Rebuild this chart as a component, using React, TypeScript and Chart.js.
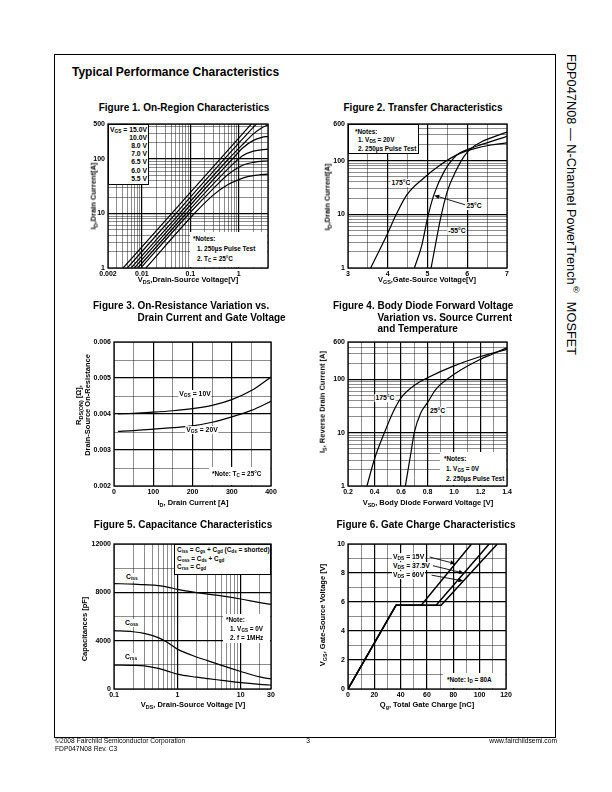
import React, { useEffect, useRef } from 'react';
import { Chart, registerables } from 'chart.js';

Chart.register(...registerables);

const FONT = "'Liberation Sans', Arial, Helvetica, sans-serif";

/* ---------- Figure 1: On-Region Characteristics (VDS [V] -> ID [A]) ---------- */
const F1_VDS_15V = [0.0041, 0.041, 0.41, 1.85];
const F1_ID_15V = [1, 10, 100, 450];
const F1_VDS_10V = [0.005, 0.05, 0.5, 1.2, 2.3];
const F1_ID_10V = [1, 10, 100, 235, 440];
const F1_VDS_8V = [0.006, 0.06, 0.6, 1.2, 2, 3, 4];
const F1_ID_8V = [1, 10, 98, 185, 290, 375, 425];
const F1_VDS_7V = [0.007, 0.07, 0.4, 0.7, 1.2, 2, 3, 4];
const F1_ID_7V = [1, 10, 56, 95, 160, 220, 250, 261];
const F1_VDS_65V = [0.0082, 0.082, 0.4, 0.8, 1.2, 2, 4];
const F1_ID_65V = [1, 10, 46, 85, 115, 140, 152];
const F1_VDS_6V = [0.0095, 0.095, 0.3, 0.6, 1.2, 2, 4];
const F1_ID_6V = [1, 10, 29, 52, 77, 87, 93];
const F1_VDS_55V = [0.0121, 0.121, 0.3, 0.6, 1, 1.6, 2.5, 4];
const F1_ID_55V = [1, 10, 22, 34, 42, 48, 51, 53];
const F1_VGS_LABELS = ['15.0V', '10.0V', '8.0 V', '7.0 V', '6.5 V', '6.0 V', '5.5 V'];
const F1_X_TICK_VALUES = [0.002, 0.01, 0.1, 1];
const F1_X_TICK_LABELS = ['0.002', '0.01', '0.1', '1'];
const F1_Y_TICK_VALUES = [1, 10, 100, 440];
const F1_Y_TICK_LABELS = ['1', '10', '100', '500'];

/* ---------- Figure 2: Transfer Characteristics (VGS [V] -> ID [A]) ---------- */
const F2_VGS_175C = [3.57, 3.99, 4.2, 4.48, 4.9, 5.33, 5.75, 6.18, 6.6, 7.0];
const F2_ID_175C = [1, 4.3, 9.5, 23, 47, 84, 129, 167, 195, 213];
const F2_VGS_25C = [4.67, 4.86, 5.0, 5.16, 5.42, 5.75, 6.0, 6.35, 7.0];
const F2_ID_25C = [1, 2.7, 8.5, 23, 63, 129, 160, 198, 283];
const F2_VGS_M55C = [5.09, 5.2, 5.33, 5.5, 5.71, 5.92, 6.09, 6.35, 7.0];
const F2_ID_M55C = [1, 2.7, 8.5, 27, 63, 120, 167, 222, 340];
const F2_X_TICK_VALUES = [3, 4, 5, 6, 7];
const F2_X_TICK_LABELS = ['3', '4', '5', '6', '7'];
const F2_Y_TICK_VALUES = [1, 10, 100, 480];
const F2_Y_TICK_LABELS = ['1', '10', '100', '600'];

/* ---------- Figure 3: On-Resistance vs Drain Current (ID [A] -> RDS(on) [ohm]) ---------- */
const F3_ID = [10, 50, 100, 150, 200, 250, 300, 350, 400];
const F3_RDS_VGS10 = [0.004, 0.00402, 0.00405, 0.00409, 0.00415, 0.00424, 0.0044, 0.00465, 0.00503];
const F3_RDS_VGS20 = [0.00352, 0.00354, 0.00358, 0.00362, 0.00367, 0.00377, 0.00392, 0.0041, 0.00435];
const F3_X_TICK_VALUES = [0, 100, 200, 300, 400];
const F3_X_TICK_LABELS = ['0', '100', '200', '300', '400'];
const F3_Y_TICK_VALUES = [0.002, 0.003, 0.004, 0.005, 0.006];
const F3_Y_TICK_LABELS = ['0.002', '0.003', '0.004', '0.005', '0.006'];

/* ---------- Figure 4: Body Diode Forward Voltage (VSD [V] -> IS [A]) ---------- */
const F4_VSD_175C = [0.343, 0.4, 0.475, 0.538, 0.6, 0.713, 0.8, 1.0, 1.2, 1.4];
const F4_IS_175C = [1, 3.2, 10, 23.7, 45, 81, 107, 178, 267, 365];
const F4_VSD_25C = [0.633, 0.675, 0.7, 0.75, 0.8, 0.863, 1.0, 1.2, 1.288, 1.4];
const F4_IS_25C = [1, 4.2, 10, 23.7, 36.5, 65, 124, 238, 295, 390];
const F4_X_TICK_VALUES = [0.2, 0.4, 0.6, 0.8, 1.0, 1.2, 1.4];
const F4_X_TICK_LABELS = ['0.2', '0.4', '0.6', '0.8', '1.0', '1.2', '1.4'];
const F4_Y_TICK_VALUES = [1, 10, 100, 500];
const F4_Y_TICK_LABELS = ['1', '10', '100', '600'];

/* ---------- Figure 5: Capacitance (VDS [V] -> C [pF]) ---------- */
const F5_VDS = [0.1, 0.2, 0.3, 0.5, 0.7, 1, 2, 3, 5, 10, 20, 30];
const F5_CISS = [8720, 8680, 8630, 8550, 8430, 8250, 7980, 7850, 7700, 7450, 7150, 7000];
const F5_COSS = [4830, 4740, 4600, 4250, 3850, 3300, 2650, 2350, 1950, 1450, 1000, 830];
const F5_CRSS = [1980, 1960, 1920, 1700, 1480, 1230, 980, 860, 720, 530, 390, 330];
const F5_X_TICK_VALUES = [0.1, 1, 10, 30];
const F5_X_TICK_LABELS = ['0.1', '1', '10', '30'];
const F5_Y_TICK_VALUES = [0, 4000, 8000, 12000];
const F5_Y_TICK_LABELS = ['0', '4000', '8000', '12000'];

/* ---------- Figure 6: Gate Charge (Qg [nC] -> VGS [V]) ---------- */
const F6_QG_15V = [0, 36.5, 55.6, 93.8];
const F6_VGS_15V = [0, 5.78, 5.78, 10];
const F6_QG_375V = [0, 36.5, 66.9, 107.2];
const F6_VGS_375V = [0, 5.78, 5.78, 10];
const F6_QG_60V = [0, 36.5, 70.7, 113.4];
const F6_VGS_60V = [0, 5.78, 5.78, 10];
const F6_X_TICK_VALUES = [0, 20, 40, 60, 80, 100, 120];
const F6_X_TICK_LABELS = ['0', '20', '40', '60', '80', '100', '120'];
const F6_Y_TICK_VALUES = [0, 2, 4, 6, 8, 10];
const F6_Y_TICK_LABELS = ['0', '2', '4', '6', '8', '10'];

/* ---------- helpers ---------- */
type Axis = {
  type: 'linear' | 'logarithmic';
  min: number;
  max: number;
  grid: number[];
  major: number[];
  tickValues: number[];
  tickLabels: string[];
};
type Series = { x: number[]; y: number[]; width?: number; straight?: boolean };
type Arrow = { from: [number, number]; to: [number, number] };
type Area = { l: number; t: number; r: number; b: number };

const PAD_L = 44;
const PAD_T = 8;
const PAD_R = 14;
const PAD_B = 16;

function logGrid(min: number, max: number): number[] {
  const out = [min];
  for (let e = Math.floor(Math.log10(min)); e <= Math.ceil(Math.log10(max)); e++) {
    for (let k = 1; k <= 9; k++) {
      const v = Number((k * Math.pow(10, e)).toPrecision(6));
      if (v > min * 1.0001 && v < max * 0.9999) out.push(v);
    }
  }
  out.push(max);
  return out;
}
function linGrid(min: number, max: number, step: number): number[] {
  const out: number[] = [];
  const n = Math.round((max - min) / step);
  for (let i = 0; i <= n; i++) out.push(Number((min + i * step).toPrecision(8)));
  return out;
}

function matchIndex(a: Axis, v: number, list: number[]) {
  const range = Math.abs(a.max - a.min);
  return list.findIndex(
    (w) => Math.abs(w - v) <= (a.type === 'logarithmic' ? 1e-6 * Math.abs(w) : 1e-6 * range)
  );
}

function axisOptions(a: Axis, which: 'x' | 'y') {
  return {
    type: a.type,
    position: which === 'x' ? 'bottom' : 'left',
    min: a.min,
    max: a.max,
    bounds: 'data',
    afterBuildTicks: (s: any) => {
      s.ticks = a.grid.map((value) => ({ value }));
    },
    afterFit: (s: any) => {
      if (which === 'x') s.height = PAD_B;
      else s.width = PAD_L;
    },
    border: { display: false },
    grid: {
      drawTicks: false,
      color: '#000',
      lineWidth: (ctx: any) =>
        ctx.tick && matchIndex(a, ctx.tick.value, a.major) >= 0 ? 1.2 : 0.45,
    },
    ticks: {
      autoSkip: false,
      maxRotation: 0,
      minRotation: 0,
      color: '#000',
      padding: which === 'x' ? 2 : 3,
      font: { family: FONT, size: 7, weight: 'bold' },
      callback: (v: any) => {
        const i = matchIndex(a, Number(v), a.tickValues);
        return i >= 0 ? a.tickLabels[i] : '';
      },
    },
  };
}

function Plot({ area, x, y, series, arrows = [] }: { area: Area; x: Axis; y: Axis; series: Series[]; arrows?: Arrow[] }) {
  const ref = useRef<HTMLCanvasElement>(null);
  const W = area.r - area.l + PAD_L + PAD_R;
  const H = area.b - area.t + PAD_T + PAD_B;
  useEffect(() => {
    if (!ref.current) return;
    const overlay = {
      id: 'frameAndArrows',
      afterDatasetsDraw(chart: any) {
        const { ctx, chartArea: ca, scales } = chart;
        ctx.save();
        ctx.strokeStyle = '#000';
        ctx.fillStyle = '#000';
        ctx.lineWidth = 1.3;
        ctx.strokeRect(ca.left, ca.top, ca.right - ca.left, ca.bottom - ca.top);
        ctx.lineWidth = 0.9;
        for (const ar of arrows) {
          const x0 = scales.x.getPixelForValue(ar.from[0]);
          const y0 = scales.y.getPixelForValue(ar.from[1]);
          const x1 = scales.x.getPixelForValue(ar.to[0]);
          const y1 = scales.y.getPixelForValue(ar.to[1]);
          const ang = Math.atan2(y1 - y0, x1 - x0);
          const hl = 5;
          const hw = 2.2;
          const bx = x1 - hl * Math.cos(ang);
          const by = y1 - hl * Math.sin(ang);
          ctx.beginPath();
          ctx.moveTo(x0, y0);
          ctx.lineTo(bx, by);
          ctx.stroke();
          ctx.beginPath();
          ctx.moveTo(x1, y1);
          ctx.lineTo(bx + hw * Math.sin(ang), by - hw * Math.cos(ang));
          ctx.lineTo(bx - hw * Math.sin(ang), by + hw * Math.cos(ang));
          ctx.closePath();
          ctx.fill();
        }
        ctx.restore();
      },
    };
    const chart = new Chart(ref.current, {
      type: 'scatter',
      data: {
        datasets: series.map((s) => ({
          data: s.x.map((xv, i) => ({ x: xv, y: s.y[i] })),
          showLine: true,
          borderColor: '#000',
          backgroundColor: '#000',
          borderWidth: s.width ?? 1.2,
          pointRadius: 0,
          pointHoverRadius: 0,
          fill: false,
          tension: 0,
          cubicInterpolationMode: s.straight ? 'default' : 'monotone',
        })),
      },
      options: {
        animation: false,
        responsive: false,
        devicePixelRatio: 1,
        events: [],
        layout: { padding: { left: 0, top: PAD_T, right: PAD_R, bottom: 0 } },
        plugins: { legend: { display: false }, tooltip: { enabled: false } },
        scales: { x: axisOptions(x, 'x'), y: axisOptions(y, 'y') },
      } as any,
      plugins: [overlay as any],
    });
    return () => chart.destroy();
  }, []);
  return (
    <canvas
      ref={ref}
      width={W}
      height={H}
      style={{ position: 'absolute', left: area.l - PAD_L, top: area.t - PAD_T, width: W, height: H }}
    />
  );
}

const Sb = ({ c }: { c: string }) => (
  <sub style={{ fontSize: '0.72em', verticalAlign: 'baseline', position: 'relative', top: '0.3em', lineHeight: 0 }}>{c}</sub>
);

function T({ x, y, s = 7, a = 'l', bg = false, w = 700, children }: { x: number; y: number; s?: number; a?: 'l' | 'c' | 'r'; bg?: boolean; w?: number; children: any }) {
  const tx = a === 'c' ? '-50%' : a === 'r' ? '-100%' : '0';
  return (
    <div
      style={{
        position: 'absolute',
        left: x,
        top: y,
        transform: `translate(${tx},-50%)`,
        fontFamily: FONT,
        fontSize: s,
        fontWeight: w,
        whiteSpace: 'nowrap',
        lineHeight: 1.15,
        background: bg ? '#fff' : 'transparent',
        padding: bg ? '0 1px' : 0,
        color: '#000',
      }}
    >
      {children}
    </div>
  );
}

function VT({ x, y, s = 7.5, children }: { x: number; y: number; s?: number; children: any }) {
  return (
    <div
      style={{
        position: 'absolute',
        left: x,
        top: y,
        transform: 'translate(-50%,-50%) rotate(-90deg)',
        fontFamily: FONT,
        fontSize: s,
        fontWeight: 700,
        whiteSpace: 'nowrap',
        lineHeight: 1.15,
        color: '#000',
      }}
    >
      {children}
    </div>
  );
}

function Box({ l, t, r, b, border = false }: { l: number; t: number; r: number; b: number; border?: boolean }) {
  return (
    <div
      style={{
        position: 'absolute',
        left: l,
        top: t,
        width: r - l,
        height: b - t,
        background: '#fff',
        border: border ? '1px solid #000' : 'none',
        boxSizing: 'border-box',
      }}
    />
  );
}

/* ---------- axis configurations ---------- */
const F1X: Axis = { type: 'logarithmic', min: 0.002, max: 4, grid: logGrid(0.002, 4), major: [0.01, 0.1, 1], tickValues: F1_X_TICK_VALUES, tickLabels: F1_X_TICK_LABELS };
const F1Y: Axis = { type: 'logarithmic', min: 1, max: 440, grid: logGrid(1, 440), major: [10, 100], tickValues: F1_Y_TICK_VALUES, tickLabels: F1_Y_TICK_LABELS };
const F2X: Axis = { type: 'linear', min: 3, max: 7, grid: linGrid(3, 7, 0.5), major: [4, 5, 6], tickValues: F2_X_TICK_VALUES, tickLabels: F2_X_TICK_LABELS };
const F2Y: Axis = { type: 'logarithmic', min: 1, max: 480, grid: logGrid(1, 480), major: [10, 100], tickValues: F2_Y_TICK_VALUES, tickLabels: F2_Y_TICK_LABELS };
const F3X: Axis = { type: 'linear', min: 0, max: 400, grid: linGrid(0, 400, 50), major: [100, 200, 300], tickValues: F3_X_TICK_VALUES, tickLabels: F3_X_TICK_LABELS };
const F3Y: Axis = { type: 'linear', min: 0.002, max: 0.006, grid: linGrid(0.002, 0.006, 0.0005), major: [0.003, 0.004, 0.005], tickValues: F3_Y_TICK_VALUES, tickLabels: F3_Y_TICK_LABELS };
const F4X: Axis = { type: 'linear', min: 0.2, max: 1.4, grid: linGrid(0.2, 1.4, 0.1), major: [0.4, 0.6, 0.8, 1.0, 1.2], tickValues: F4_X_TICK_VALUES, tickLabels: F4_X_TICK_LABELS };
const F4Y: Axis = { type: 'logarithmic', min: 1, max: 500, grid: logGrid(1, 500), major: [10, 100], tickValues: F4_Y_TICK_VALUES, tickLabels: F4_Y_TICK_LABELS };
const F5X: Axis = { type: 'logarithmic', min: 0.1, max: 30, grid: logGrid(0.1, 30), major: [1, 10], tickValues: F5_X_TICK_VALUES, tickLabels: F5_X_TICK_LABELS };
const F5Y: Axis = { type: 'linear', min: 0, max: 12000, grid: linGrid(0, 12000, 2000), major: [4000, 8000], tickValues: F5_Y_TICK_VALUES, tickLabels: F5_Y_TICK_LABELS };
const F6X: Axis = { type: 'linear', min: 0, max: 120, grid: linGrid(0, 120, 10), major: [20, 40, 60, 80, 100], tickValues: F6_X_TICK_VALUES, tickLabels: F6_X_TICK_LABELS };
const F6Y: Axis = { type: 'linear', min: 0, max: 10, grid: linGrid(0, 10, 1), major: [2, 4, 6, 8], tickValues: F6_Y_TICK_VALUES, tickLabels: F6_Y_TICK_LABELS };

export default function App() {
  return (
    <div style={{ position: 'absolute', left: 0, top: 0, width: 612, height: 792, background: '#fff', overflow: 'hidden', fontFamily: FONT }}>
      {/* page frame */}
      <div style={{ position: 'absolute', left: 54, top: 54, width: 502, height: 684, border: '1px solid #000', boxSizing: 'border-box' }} />
      <div
        style={{
          position: 'absolute',
          left: 564,
          top: 54,
          writingMode: 'vertical-rl',
          fontFamily: FONT,
          fontSize: 12.8,
          lineHeight: '14px',
          whiteSpace: 'nowrap',
          color: '#000',
        }}
      >
        FDP047N08 — N-Channel PowerTrench<sup style={{ fontSize: '0.7em' }}>®</sup>&nbsp; MOSFET
      </div>
      <T x={72} y={73} s={12}>Typical Performance Characteristics</T>

      {/* ---------- Figure 1 ---------- */}
      <T x={184} y={108} s={10} a="c">Figure 1. On-Region Characteristics</T>
      <Plot
        area={{ l: 108, t: 124, r: 268, b: 268 }}
        x={F1X}
        y={F1Y}
        series={[
          { x: F1_VDS_15V, y: F1_ID_15V },
          { x: F1_VDS_10V, y: F1_ID_10V },
          { x: F1_VDS_8V, y: F1_ID_8V },
          { x: F1_VDS_7V, y: F1_ID_7V },
          { x: F1_VDS_65V, y: F1_ID_65V },
          { x: F1_VDS_6V, y: F1_ID_6V },
          { x: F1_VDS_55V, y: F1_ID_55V },
        ]}
      />
      <Box l={108} t={124} r={149} b={185} border />
      {F1_VGS_LABELS.map((lb, i) => (
        <T key={lb} x={147} y={129.5 + i * 8.2} s={6.8} a="r">
          {i === 0 ? (
            <>
              V<Sb c="GS" /> = {lb}
            </>
          ) : (
            lb
          )}
        </T>
      ))}
      <Box l={190} t={232} r={267} b={267} />
      <T x={193} y={238.5} s={6.4}>*Notes:</T>
      <T x={197} y={248.5} s={6.4}>1. 250µs Pulse Test</T>
      <T x={197} y={258.5} s={6.4}>
        2. T<Sb c="C" /> = 25°C
      </T>
      <T x={188} y={280} s={7.5} a="c">
        V<Sb c="DS" />,Drain-Source Voltage[V]
      </T>
      <VT x={94} y={196}>
        I<Sb c="D" />,Drain Current[A]
      </VT>

      {/* ---------- Figure 2 ---------- */}
      <T x={423} y={108} s={10} a="c">Figure 2. Transfer Characteristics</T>
      <Plot
        area={{ l: 348, t: 124, r: 507, b: 268 }}
        x={F2X}
        y={F2Y}
        series={[
          { x: F2_VGS_175C, y: F2_ID_175C },
          { x: F2_VGS_25C, y: F2_ID_25C },
          { x: F2_VGS_M55C, y: F2_ID_M55C },
        ]}
        arrows={[{ from: [5.95, 15], to: [5.17, 22.5] }]}
      />
      <Box l={348} t={124} r={419} b={154} border />
      <T x={355} y={131.5} s={6.4}>*Notes:</T>
      <T x={358} y={140} s={6.4}>
        1. V<Sb c="DS" /> = 20V
      </T>
      <T x={358} y={148.5} s={6.4}>2. 250µs Pulse Test</T>
      <T x={401} y={183} s={6.8} a="c" bg>175°C</T>
      <T x={474} y={206} s={6.8} a="c" bg>25°C</T>
      <T x={457} y={231} s={6.8} a="c" bg>-55°C</T>
      <T x={427} y={280} s={7.5} a="c">
        V<Sb c="GS" />,Gate-Source Voltage[V]
      </T>
      <VT x={328} y={197}>
        I<Sb c="D" />,Drain Current[A]
      </VT>

      {/* ---------- Figure 3 ---------- */}
      <T x={93} y={306} s={10}>Figure 3. On-Resistance Variation vs.</T>
      <T x={137.5} y={317.5} s={10}>Drain Current and Gate Voltage</T>
      <Plot
        area={{ l: 114, t: 342, r: 271, b: 486 }}
        x={F3X}
        y={F3Y}
        series={[
          { x: F3_ID, y: F3_RDS_VGS10 },
          { x: F3_ID, y: F3_RDS_VGS20 },
        ]}
      />
      <T x={195} y={394} s={6.8} a="c" bg>
        V<Sb c="GS" /> = 10V
      </T>
      <T x={202} y={430} s={6.8} a="c" bg>
        V<Sb c="GS" /> = 20V
      </T>
      <Box l={209} t={467} r={270} b={485} />
      <T x={212} y={474} s={6.4}>
        *Note: T<Sb c="C" /> = 25°C
      </T>
      <T x={193} y={503} s={7.5} a="c">
        I<Sb c="D" />, Drain Current [A]
      </T>
      <VT x={79} y={405}>
        R<Sb c="DS(ON)" /> [Ω],
      </VT>
      <VT x={88} y={405}>Drain-Source On-Resistance</VT>

      {/* ---------- Figure 4 ---------- */}
      <T x={333} y={306} s={10}>Figure 4. Body Diode Forward Voltage</T>
      <T x={377.5} y={317.5} s={10}>Variation vs. Source Current</T>
      <T x={377.5} y={329} s={10}>and Temperature</T>
      <Plot
        area={{ l: 348, t: 342, r: 507, b: 486 }}
        x={F4X}
        y={F4Y}
        series={[
          { x: F4_VSD_175C, y: F4_IS_175C },
          { x: F4_VSD_25C, y: F4_IS_25C },
        ]}
      />
      <T x={385} y={398} s={6.8} a="c" bg>175°C</T>
      <T x={437.5} y={411} s={6.8} a="c" bg>25°C</T>
      <Box l={440} t={452} r={506} b={485} />
      <T x={444} y={459} s={6.4}>*Notes:</T>
      <T x={446} y={469} s={6.4}>
        1. V<Sb c="GS" /> = 0V
      </T>
      <T x={446} y={479} s={6.4}>2. 250µs Pulse Test</T>
      <T x={428} y={503} s={7.5} a="c">
        V<Sb c="SD" />, Body Diode Forward Voltage [V]
      </T>
      <VT x={323} y={402}>
        I<Sb c="S" />, Reverse Drain Current [A]
      </VT>

      {/* ---------- Figure 5 ---------- */}
      <T x={183} y={525} s={10} a="c">Figure 5. Capacitance Characteristics</T>
      <Plot
        area={{ l: 114, t: 544, r: 271, b: 689 }}
        x={F5X}
        y={F5Y}
        series={[
          { x: F5_VDS, y: F5_CISS },
          { x: F5_VDS, y: F5_COSS },
          { x: F5_VDS, y: F5_CRSS },
        ]}
      />
      <Box l={174} t={544} r={271} b={575} border />
      <T x={177} y={550} s={6.4}>
        C<Sb c="iss" /> = C<Sb c="gs" /> + C<Sb c="gd" /> (C<Sb c="ds" /> = shorted)
      </T>
      <T x={177} y={558.5} s={6.4}>
        C<Sb c="oss" /> = C<Sb c="ds" /> + C<Sb c="gd" />
      </T>
      <T x={177} y={567} s={6.4}>
        C<Sb c="rss" /> = C<Sb c="gd" />
      </T>
      <Box l={223} t={614} r={270} b={643} />
      <T x={226} y={620} s={6.4}>*Note:</T>
      <T x={230} y={628.5} s={6.4}>
        1. V<Sb c="GS" /> = 0V
      </T>
      <T x={230} y={637.5} s={6.4}>2. f = 1MHz</T>
      <T x={125} y={577} s={6.8} bg>
        C<Sb c="iss" />
      </T>
      <T x={124} y={623} s={6.8} bg>
        C<Sb c="oss" />
      </T>
      <T x={124} y={656.5} s={6.8} bg>
        C<Sb c="rss" />
      </T>
      <T x={193} y={705} s={7.5} a="c">
        V<Sb c="DS" />, Drain-Source Voltage [V]
      </T>
      <VT x={85} y={629}>Capacitances [pF]</VT>

      {/* ---------- Figure 6 ---------- */}
      <T x={426} y={525} s={10} a="c">Figure 6. Gate Charge Characteristics</T>
      <Plot
        area={{ l: 348, t: 544, r: 506, b: 689 }}
        x={F6X}
        y={F6Y}
        series={[
          { x: F6_QG_15V, y: F6_VGS_15V, width: 1.5, straight: true },
          { x: F6_QG_375V, y: F6_VGS_375V, width: 1.5, straight: true },
          { x: F6_QG_60V, y: F6_VGS_60V, width: 1.5, straight: true },
        ]}
        arrows={[
          { from: [62, 9.1], to: [81.5, 8.64] },
          { from: [64.5, 8.5], to: [88, 7.99] },
          { from: [63.5, 7.85], to: [87.6, 7.45] },
        ]}
      />
      <T x={392} y={557} s={6.8} bg>
        V<Sb c="DS" /> = 15V
      </T>
      <T x={392} y={566} s={6.8} bg>
        V<Sb c="DS" /> = 37.5V
      </T>
      <T x={392} y={575} s={6.8} bg>
        V<Sb c="DS" /> = 60V
      </T>
      <Box l={443} t={673} r={505} b={688} />
      <T x={447} y={680} s={6.4}>
        *Note: I<Sb c="D" /> = 80A
      </T>
      <T x={427} y={705} s={7.5} a="c">
        Q<Sb c="g" />, Total Gate Charge [nC]
      </T>
      <VT x={323} y={615}>
        V<Sb c="GS" />, Gate-Source Voltage [V]
      </VT>

      {/* ---------- footer ---------- */}
      <T x={55} y={741} s={6.7} w={400}>©2008 Fairchild Semiconductor Corporation</T>
      <T x={55} y={748.5} s={6.7} w={400}>FDP047N08 Rev. C3</T>
      <T x={308} y={741} s={6.7} w={400} a="c">3</T>
      <T x={557} y={741} s={6.7} w={400} a="r">www.fairchildsemi.com</T>
    </div>
  );
}
